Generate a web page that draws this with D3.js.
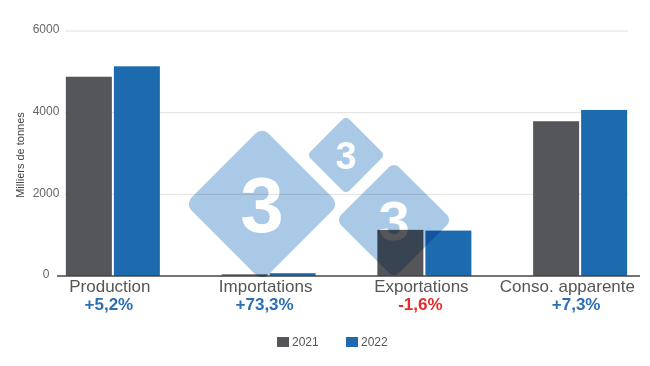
<!DOCTYPE html>
<html>
<head>
<meta charset="utf-8">
<script src="https://cdn.jsdelivr.net/npm/d3@7"></script>
<style>
  body { margin: 0; background: #fff; }
  svg { font-family: "Liberation Sans", Arial, sans-serif; }
</style>
</head>
<body>
<div id="chart"></div>
<script>
const categories = ["Production", "Importations", "Exportations", "Conso. apparente"];
const years = ["2021", "2022"];
const values2021 = [4880, 40, 1130, 3790];
const values2022 = [5135, 69, 1112, 4067];
const changes = ["+5,2%", "+73,3%", "-1,6%", "+7,3%"];
const yTicks = [0, 2000, 4000, 6000];

const W = 650, H = 366;
const colors = {"2021": "#545659", "2022": "#1d6aaf"};

const svg = d3.select("#chart").append("svg")
  .attr("width", W).attr("height", H);

const y = d3.scaleLinear().domain([0, 6000]).range([276, 31]);

const x0 = d3.scaleBand().domain(categories).range([35, 658]);
const x1 = d3.scaleBand().domain(years).range([0, x0.bandwidth()])
  .paddingInner(0.042).paddingOuter(0.643);

// grid
svg.append("g").selectAll("line")
  .data(yTicks.filter(d => d > 0))
  .join("line")
    .attr("x1", 65).attr("x2", 628)
    .attr("y1", d => y(d)).attr("y2", d => y(d))
    .attr("stroke", "#e0e0e0").attr("stroke-width", 1);

// y labels
svg.append("g").selectAll("text")
  .data(yTicks)
  .join("text")
    .attr("x", 46).attr("y", d => y(d) - 2)
    .attr("text-anchor", "middle")
    .attr("dy", "0.35em")
    .attr("font-size", 12)
    .attr("fill", "#666")
    .text(d => d);

svg.append("text")
  .attr("transform", "translate(24,155) rotate(-90)")
  .attr("text-anchor", "middle")
  .attr("font-size", 11)
  .attr("fill", "#444")
  .text("Milliers de tonnes");

// bars
const rows = categories.map((c, i) => ({cat: c, vals: [
  {year: "2021", v: values2021[i]}, {year: "2022", v: values2022[i]}]}));

svg.append("g").selectAll("g")
  .data(rows)
  .join("g")
    .attr("transform", d => `translate(${x0(d.cat)},0)`)
  .selectAll("rect")
  .data(d => d.vals)
  .join("rect")
    .attr("x", d => x1(d.year))
    .attr("width", x1.bandwidth())
    .attr("y", d => y(d.v))
    .attr("height", d => y(0) - y(d.v))
    .attr("fill", d => colors[d.year]);

// baseline
svg.append("line")
  .attr("x1", 57).attr("x2", 640)
  .attr("y1", y(0)).attr("y2", y(0))
  .attr("stroke", "#444").attr("stroke-width", 1.5);

// watermark (multiply blend)
const wm = svg.append("g").style("mix-blend-mode", "multiply");
const marks = [
  {cx: 262, cy: 204, r: 77, fs: 78},
  {cx: 346, cy: 155, r: 39, fs: 38},
  {cx: 394, cy: 220, r: 58, fs: 56}
];
marks.forEach(m => {
  const s = m.r * Math.SQRT2;
  wm.append("rect")
    .attr("x", -s / 2).attr("y", -s / 2)
    .attr("width", s).attr("height", s)
    .attr("rx", m.r * 0.12)
    .attr("transform", `translate(${m.cx},${m.cy}) rotate(45)`)
    .attr("fill", "#a9c9e7");
  wm.append("text")
    .attr("x", m.cx).attr("y", m.cy)
    .attr("dy", "0.36em")
    .attr("text-anchor", "middle")
    .attr("font-weight", "bold")
    .attr("font-size", m.fs)
    .attr("fill", "#fff")
    .text("3");
});

// category labels
const catLabels = svg.append("g").selectAll("text")
  .data(categories)
  .join("text")
    .attr("y", 292)
    .attr("font-size", 17)
    .attr("fill", "#555")
    .attr("text-anchor", "middle")
    .text(d => d);
catLabels.attr("x", function(d) {
  const c = x0(d) + x0.bandwidth() / 2;
  const w = this.getComputedTextLength();
  return Math.min(c, 638 - w / 2) - 3;
});

svg.append("g").selectAll("text")
  .data(changes)
  .join("text")
    .attr("x", (d, i) => x0(categories[i]) + x0.bandwidth() / 2 - 4)
    .attr("y", 310)
    .attr("text-anchor", "middle")
    .attr("font-size", 17)
    .attr("font-weight", "bold")
    .attr("fill", d => d.startsWith("-") ? "#e62a2a" : "#2b6fb3")
    .text(d => d);

// legend
const lg = svg.append("g").selectAll("g")
  .data(years)
  .join("g")
    .attr("transform", (d, i) => `translate(${277 + i * 69},337)`);
lg.append("rect")
  .attr("width", 12).attr("height", 10)
  .attr("fill", d => colors[d]);
lg.append("text")
  .attr("x", 15).attr("y", 5)
  .attr("dy", "0.36em")
  .attr("font-size", 12)
  .attr("fill", "#555")
  .text(d => d);
</script>
</body>
</html>
